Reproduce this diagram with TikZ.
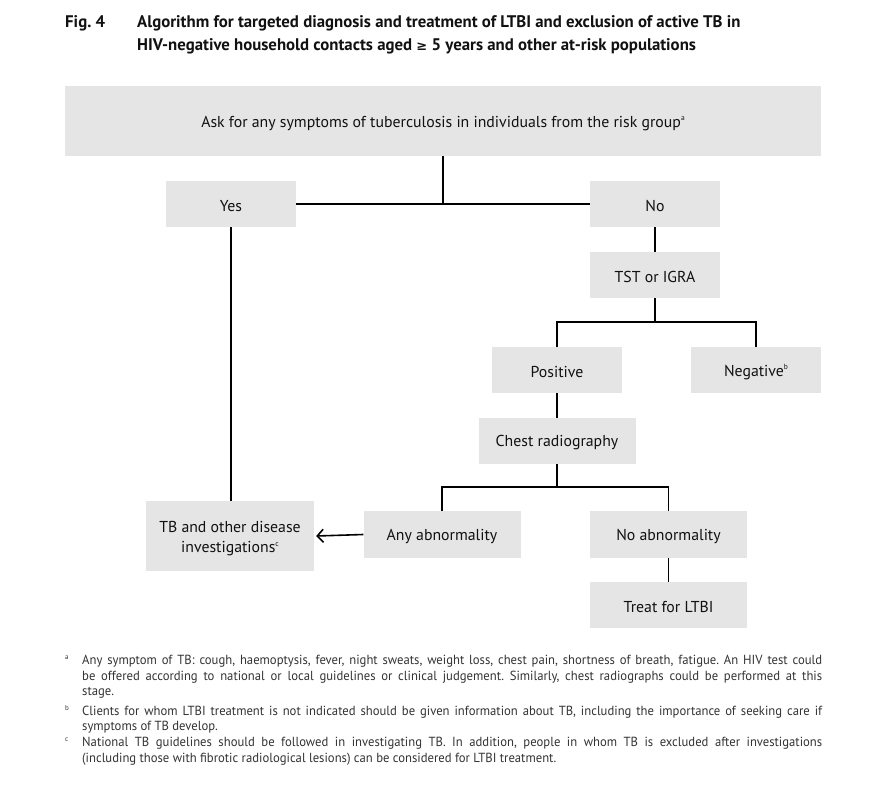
\documentclass[tikz,border=0pt]{standalone}
\usepackage{fontspec}
\setmainfont{PT Sans}
\newfontfamily\fnfont[FakeStretch=0.96]{PT Sans}
\newfontfamily\symfont{DejaVu Sans}
\usetikzlibrary{arrows.meta}
\definecolor{boxgray}{HTML}{E5E5E5}
\definecolor{txt}{HTML}{111111}
\definecolor{fn}{HTML}{333333}
\newcommand{\supmark}[1]{\raisebox{0.42em}{\fontsize{7.5}{8}\selectfont #1}}
\newcommand{\jline}[1]{\makebox[740pt][s]{#1}}
\newcommand{\lowr}[1]{\raisebox{-1.8pt}[\height][\depth]{#1}}
\frenchspacing
\begin{document}
\begin{tikzpicture}[x=1pt,y=-1pt,
  box/.style={fill=boxgray, inner sep=0pt, align=center, text=txt,
    font=\fontsize{15.8}{18.5}\selectfont},
  conn/.style={line width=1.6pt, black},
  fnote/.style={anchor=base west, inner sep=0pt, text=fn,
    font=\fnfont\fontsize{13.2}{15.6}\selectfont},
  fmark/.style={anchor=base west, inner sep=0pt, text=fn, font=\fontsize{7}{8}\selectfont},
  title/.style={anchor=base west, inner sep=0pt, text=txt,
    font=\bfseries\fontsize{16.8}{18}\selectfont}]
\useasboundingbox (0,0) rectangle (893,784);
\fill[white] (0,0) rectangle (893,784);

% title
\node[title] (fig) at (65,28) {Fig.~4};
\node[title] (t1) at (137,28) {Algorithm for targeted diagnosis and treatment of LTBI and exclusion of active TB in};
\node[title] (t2) at (137,50) {HIV-negative household contacts aged {\symfont\fontsize{13}{14}\selectfont ≥} 5 years and other at-risk populations};

% boxes
\node[box, minimum width=756pt, minimum height=70pt] (ask) at (443,121) {\raisebox{-2.5pt}[\height][\depth]{Ask for any symptoms of tuberculosis in individuals from the risk group\supmark{a}}};
\node[box, minimum width=130pt, minimum height=46pt] (yes) at (231,204) {\lowr{Yes}};
\node[box, minimum width=130pt, minimum height=46pt] (no) at (655,204) {\lowr{No}};
\node[box, minimum width=130pt, minimum height=46pt] (tst) at (655,275) {\lowr{TST or IGRA}};
\node[box, minimum width=130pt, minimum height=46pt] (pos) at (557,370) {\lowr{Positive}};
\node[box, minimum width=130pt, minimum height=46pt] (neg) at (756,370) {\lowr{Negative\supmark{b}}};
\node[box, minimum width=157pt, minimum height=46pt] (chest) at (557,441) {\lowr{Chest radiography}};
\node[box, minimum width=157pt, minimum height=47pt] (any) at (442,534.5) {\lowr{Any abnormality}};
\node[box, minimum width=157pt, minimum height=47pt] (noab) at (668.5,534.5) {\lowr{No abnormality}};
\node[box, minimum width=157pt, minimum height=46pt] (treat) at (668.5,605) {\lowr{Treat for LTBI}};
\node[box, minimum width=168pt, minimum height=70pt, font=\fontsize{15.8}{20.5}\selectfont] (tb) at (230,536) {\raisebox{-2.5pt}[\height][\depth]{TB and other disease}\\\raisebox{-2.5pt}[\height][\depth]{investigations\supmark{c}}};

% connectors
\coordinate (j1) at (655,322);
\coordinate (j2) at (557,487);
\draw[conn] (yes.east) -- (no.west);
\draw[conn] (ask.south) -- (ask.south |- yes.east);
\draw[conn] (no.south) -- (tst.north);
\draw[conn] (tst.south) -- (j1);
\draw[conn] (pos.north) |- (j1) -| (neg.north);
\draw[conn] (pos.south) -- (chest.north);
\draw[conn] (chest.south) -- (j2);
\draw[conn] (any.north) |- (j2) -| (noab.north);
\draw[conn] (noab.south) -- (treat.north);
\draw[conn] (yes.south) -- (yes.south |- tb.north);
\draw[conn, -{Straight Barb[length=6pt,width=13pt]}] (any.west) -- ([xshift=2pt]tb.east);

% footnotes
\node[fmark] (ma) at (65,659) {a};
\node[fnote] (fa1) at (82,664) {\jline{Any symptom of TB: cough, haemoptysis, fever, night sweats, weight loss, chest pain, shortness of breath, fatigue. An HIV test could}};
\node[fnote] (fa2) at (82,680) {\jline{be offered according to national or local guidelines or clinical judgement. Similarly, chest radiographs could be performed at this}};
\node[fnote] (fa3) at (82,695) {stage.};
\node[fmark] (mb) at (65,710) {b};
\node[fnote] (fb1) at (82,715) {\jline{Clients for whom LTBI treatment is not indicated should be given information about TB, including the importance of seeking care if}};
\node[fnote] (fb2) at (82,730) {symptoms of TB develop.};
\node[fmark] (mc) at (65,741) {c};
\node[fnote] (fc1) at (82,746) {\jline{National TB guidelines should be followed in investigating TB. In addition, people in whom TB is excluded after investigations}};
\node[fnote] (fc2) at (82,762) {(including those with fibrotic radiological lesions) can be considered for LTBI treatment.};
\end{tikzpicture}
\end{document}
